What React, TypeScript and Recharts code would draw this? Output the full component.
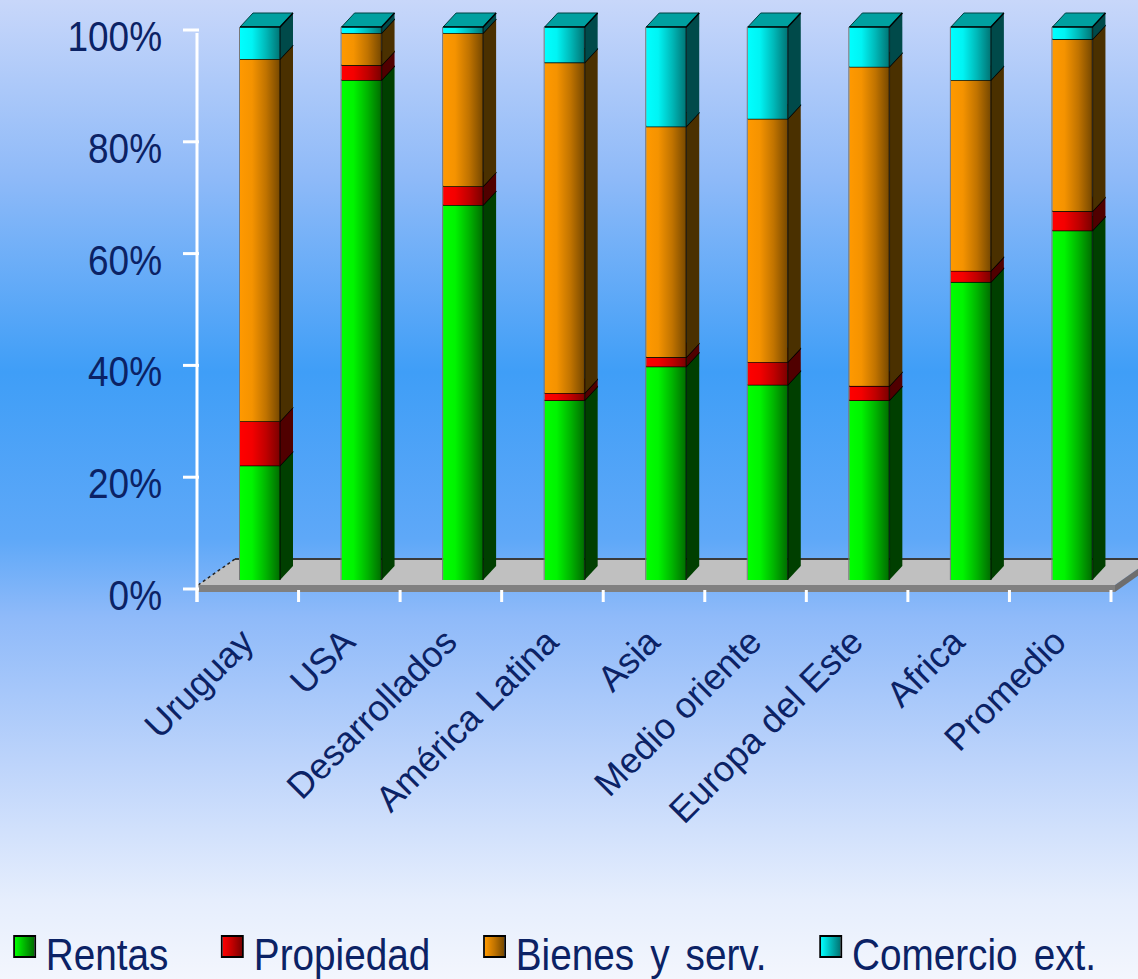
import React from 'react';
import { BarChart, Bar, XAxis, YAxis, Legend, ReferenceArea } from 'recharts';

// valores (% de la recaudación)
const categories = ['Uruguay', 'USA', 'Desarrollados', 'América Latina', 'Asia', 'Medio oriente', 'Europa del Este', 'Africa', 'Promedio'];
const rentas = [20.7, 90.4, 67.8, 32.5, 38.6, 35.3, 32.5, 53.9, 63.2];
const propiedad = [8.0, 2.7, 3.4, 1.3, 1.7, 4.1, 2.6, 2.0, 3.5];
const bienes = [65.5, 5.8, 27.7, 59.8, 41.7, 44.0, 57.7, 34.5, 31.1];
const comercio = [5.8, 1.1, 1.1, 6.4, 18.0, 16.6, 7.2, 9.6, 2.2];
const yTicks = [0, 20, 40, 60, 80, 100];

const data = categories.map((name, i) => ({
    name,
    rentas: rentas[i],
    propiedad: propiedad[i],
    bienes: bienes[i],
    comercio: comercio[i],
}));

const TEXT = '#0b2265';
const FONT = '"Liberation Sans", Arial, sans-serif';

interface Face {
    key: string;
    name: string;
    stops: string[];
    side: string;
    top: string;
}

const series: Face[] = [
    { key: 'rentas', name: 'Rentas', stops: ['#00ff00', '#00f400', '#00b400', '#006c00'], side: '#003f00', top: '#00b000' },
    { key: 'propiedad', name: 'Propiedad', stops: ['#ff0000', '#f40000', '#c00000', '#7a0000'], side: '#500000', top: '#b00000' },
    { key: 'bienes', name: 'Bienes y serv.', stops: ['#ff9900', '#f59300', '#c07300', '#764800'], side: '#4a3000', top: '#c07000' },
    { key: 'comercio', name: 'Comercio ext.', stops: ['#00ffff', '#00f4f4', '#00b8b8', '#007474'], side: '#004a4a', top: '#00a0a0' },
];

// profundidad del efecto 3D
const DX = 13;
const DY = 14;
const SHIFT = 12;

const makeShape = (f: Face) => (p: any) => {
    const { x, y, width: w, height: h } = p;
    if (x == null || y == null || !w || h == null) return <g />;
    const x0 = x + SHIFT;
    return (
        <g>
            <polygon
                points={`${x0},${y} ${x0 + DX},${y - DY} ${x0 + w + DX},${y - DY} ${x0 + w},${y}`}
                fill={f.top}
                stroke="#004040"
                strokeWidth={1}
            />
            <polygon
                points={`${x0 + w},${y} ${x0 + w + DX},${y - DY} ${x0 + w + DX},${y + h - DY} ${x0 + w},${y + h}`}
                fill={f.side}
            />
            <rect x={x0} y={y} width={w} height={h} fill={`url(#g-${f.key})`} />
            <line x1={x0 - 0.5} y1={y} x2={x0 - 0.5} y2={y + h} stroke="#777" strokeWidth={1} />
            <line x1={x0 + w} y1={y} x2={x0 + w} y2={y + h} stroke="#000" strokeOpacity={0.6} strokeWidth={1.5} />
            <polyline points={`${x0},${y} ${x0 + w},${y} ${x0 + w + DX},${y - DY}`} fill="none" stroke="#000" strokeWidth={1.5} />
        </g>
    );
};

const Floor = (p: any) => {
    const { x, y, width, height } = p;
    const b = y + height;
    const fl = x + 1;
    const fr = x + width + 4;
    const fy = b + 5;
    const D = 37;
    const E = 26;
    return (
        <g>
            <polygon points={`${fl},${fy} ${fl + D},${fy - E} ${fr + D},${fy - E} ${fr},${fy}`} fill="#c0c0c0" />
            <polygon points={`${fl},${fy} ${fr},${fy} ${fr},${fy + 7} ${fl},${fy + 7}`} fill="#808080" />
            <polygon points={`${fr},${fy} ${fr + D},${fy - E} ${fr + D},${fy - E + 7} ${fr},${fy + 7}`} fill="#6e6e6e" />
            <line x1={fl + D} y1={fy - E} x2={fr + D} y2={fy - E} stroke="#3a3a3a" strokeWidth={2} />
            <line x1={fl} y1={fy} x2={fl + D} y2={fy - E} stroke="#222" strokeWidth={1.5} strokeDasharray="3 3" />
            <line x1={x} y1={y + 6} x2={x} y2={b + 22} stroke="#fff" strokeWidth={3} />
        </g>
    );
};

const YTick = (p: any) => {
    const { x, y, payload } = p;
    const v = Number(payload.value);
    const ty = y + 3 + 6 * (1 - v / 100);
    return (
        <g>
            <line x1={x - 14} y1={ty} x2={x + 2} y2={ty} stroke="#fff" strokeWidth={3} />
            <text
                transform={`translate(${x - 35},${ty + 21}) scale(0.88,1)`}
                textAnchor="end"
                fontSize={42}
                fontFamily={FONT}
                fill={TEXT}
            >
                {`${v}%`}
            </text>
        </g>
    );
};

const XTick = (p: any) => {
    const { x, y, payload, index } = p;
    const half = payload.offset ?? (p.width ? p.width / categories.length / 2 : 50.8);
    const lx = x + 8;
    const ly = y + 64;
    return (
        <g>
            <line x1={x - half} y1={y + 10} x2={x - half} y2={y + 22} stroke="#fff" strokeWidth={3} />
            {index === categories.length - 1 && (
                <line x1={x + half} y1={y + 10} x2={x + half} y2={y + 22} stroke="#fff" strokeWidth={3} />
            )}
            <text
                x={lx}
                y={ly}
                transform={`rotate(-45, ${lx}, ${ly})`}
                textAnchor="end"
                fontSize={36}
                fontFamily={FONT}
                fill={TEXT}
            >
                {payload.value}
            </text>
        </g>
    );
};

// leyenda en el orden de las series, no en el que trae recharts
const renderLegend = () => (
    <div
        style={{
            width: 1293,
            height: 48,
            display: 'flex',
            alignItems: 'flex-start',
            paddingLeft: 15,
            boxSizing: 'border-box',
            transform: 'scaleX(0.88)',
            transformOrigin: '0 0',
            whiteSpace: 'nowrap',
        }}
    >
        {series.map(f => (
            <div key={f.key} style={{ display: 'flex', alignItems: 'flex-start', marginRight: 60, flexShrink: 0 }}>
                <span
                    style={{
                        display: 'inline-block',
                        width: 26,
                        height: 23,
                        marginTop: 4,
                        marginRight: 11,
                        boxSizing: 'border-box',
                        border: '2.5px solid #000',
                        background: `linear-gradient(to right, ${f.stops[0]}, ${f.stops[2]}, ${f.stops[3]})`,
                    }}
                />
                <span style={{ fontSize: 44, lineHeight: '48px', color: TEXT, fontFamily: FONT, wordSpacing: 6 }}>
                    {f.name}
                </span>
            </div>
        ))}
    </div>
);

const App: React.FC = () => {
    return (
        <div
            style={{
                position: 'absolute',
                left: 0,
                top: 0,
                width: 1138,
                height: 979,
                overflow: 'hidden',
                background:
                    'linear-gradient(to bottom, #c8d7fa 0%, #8fbaf8 18%, #3f9ef7 38%, #5ea8f8 55%, #8fbaf9 63%, #bdd4fb 78%, #e6eefd 92%, #f3f6fd 100%)',
            }}
        >
            <BarChart
                width={1138}
                height={979}
                data={data}
                margin={{ top: 27, right: 27, left: 97, bottom: 0 }}
                barSize={40}
            >
                <defs>
                    {series.map(f => (
                        <linearGradient key={f.key} id={`g-${f.key}`} x1="0" y1="0" x2="1" y2="0">
                            <stop offset="0%" stopColor={f.stops[0]} />
                            <stop offset="30%" stopColor={f.stops[1]} />
                            <stop offset="65%" stopColor={f.stops[2]} />
                            <stop offset="100%" stopColor={f.stops[3]} />
                        </linearGradient>
                    ))}
                </defs>
                <ReferenceArea y1={0} y2={100} shape={Floor} ifOverflow="visible" />
                <XAxis
                    dataKey="name"
                    interval={0}
                    height={351}
                    axisLine={false}
                    tickLine={false}
                    tickSize={0}
                    tickMargin={0}
                    tick={<XTick />}
                />
                <YAxis
                    width={100}
                    domain={[0, 100]}
                    ticks={yTicks}
                    axisLine={false}
                    tickLine={false}
                    tickSize={0}
                    tickMargin={0}
                    tick={<YTick />}
                />
                {series.map(f => (
                    <Bar
                        key={f.key}
                        dataKey={f.key}
                        name={f.name}
                        stackId="a"
                        fill={f.stops[1]}
                        shape={makeShape(f)}
                        isAnimationActive={false}
                    />
                ))}
                <Legend
                    verticalAlign="bottom"
                    content={renderLegend}
                    wrapperStyle={{ left: 0, bottom: 0, width: 1138, height: 48, overflow: 'visible' }}
                />
            </BarChart>
        </div>
    );
};

export default App;
